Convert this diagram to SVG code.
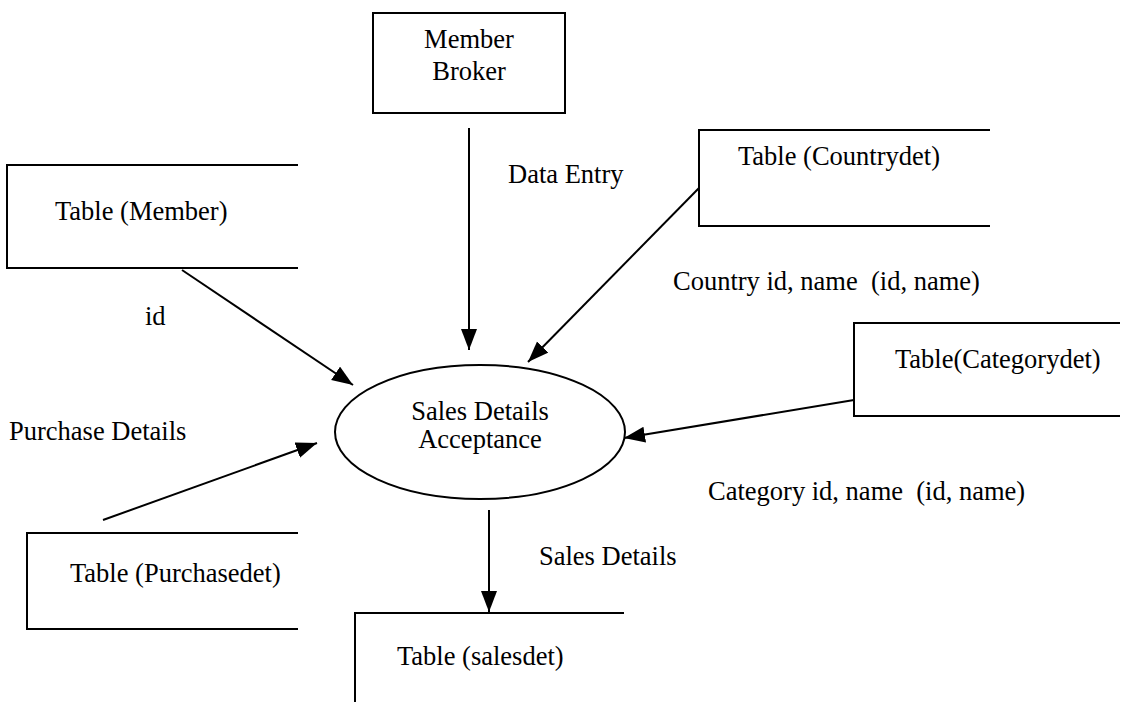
<svg xmlns="http://www.w3.org/2000/svg" width="1143" height="702" viewBox="0 0 1143 702">
  <style>
    .bg { fill: #ffffff; }
    .store { fill: none; stroke: #000; stroke-width: 2; }
    .proc { fill: none; stroke: #000; stroke-width: 2; }
    .flow { fill: none; stroke: #000; stroke-width: 2; marker-end: url(#arrow); }
    text { font-family: "Liberation Serif", "Times New Roman", serif; font-size: 26.5px; fill: #000; }
    .mid { text-anchor: middle; }
  </style>
  <defs>
    <marker id="arrow" markerUnits="userSpaceOnUse" markerWidth="22" markerHeight="18" refX="21" refY="8" orient="auto">
      <path d="M0,0 L21,8 L0,16 z" fill="#000"/>
    </marker>
  </defs>

  <rect class="bg" x="0" y="0" width="1143" height="702"/>

  <!-- external entity -->
  <g id="member-broker">
    <rect class="store" x="373" y="13" width="192" height="100"/>
    <text class="mid" x="469" y="48">Member</text>
    <text class="mid" x="469" y="80">Broker</text>
  </g>

  <!-- data stores (open on the right) -->
  <g id="table-member">
    <path class="store" d="M298,165 H7 V268 H298"/>
    <text x="55" y="220">Table (Member)</text>
  </g>

  <g id="table-countrydet">
    <path class="store" d="M990,130 H699 V226 H990"/>
    <text x="738" y="165">Table (Countrydet)</text>
  </g>

  <g id="table-categorydet">
    <path class="store" d="M1120,323 H854 V416 H1120"/>
    <text x="895" y="368">Table(Categorydet)</text>
  </g>

  <g id="table-purchasedet">
    <path class="store" d="M298,533 H27 V629 H298"/>
    <text x="70" y="582">Table (Purchasedet)</text>
  </g>

  <g id="table-salesdet">
    <path class="store" d="M624,613 H355 V702"/>
    <text x="397" y="665">Table (salesdet)</text>
  </g>

  <!-- process -->
  <g id="sales-details-acceptance">
    <ellipse class="proc" cx="480" cy="432" rx="145" ry="67"/>
    <text class="mid" x="480" y="420">Sales Details</text>
    <text class="mid" x="480" y="448">Acceptance</text>
  </g>

  <!-- data flows -->
  <g id="connectors">
    <line class="flow" x1="469" y1="128" x2="469" y2="350"/>
    <line class="flow" x1="182" y1="270" x2="353" y2="385"/>
    <line class="flow" x1="699" y1="188" x2="528" y2="362"/>
    <line class="flow" x1="854" y1="400" x2="624" y2="438"/>
    <line class="flow" x1="103" y1="520" x2="317" y2="443"/>
    <line class="flow" x1="489" y1="510" x2="489" y2="612"/>
  </g>

  <!-- flow labels -->
  <g id="labels">
    <text x="508" y="183">Data Entry</text>
    <text x="145" y="325">id</text>
    <text x="673" y="290" xml:space="preserve">Country id, name  (id, name)</text>
    <text x="9" y="440">Purchase Details</text>
    <text x="708" y="500" xml:space="preserve">Category id, name  (id, name)</text>
    <text x="539" y="565">Sales Details</text>
  </g>
</svg>
